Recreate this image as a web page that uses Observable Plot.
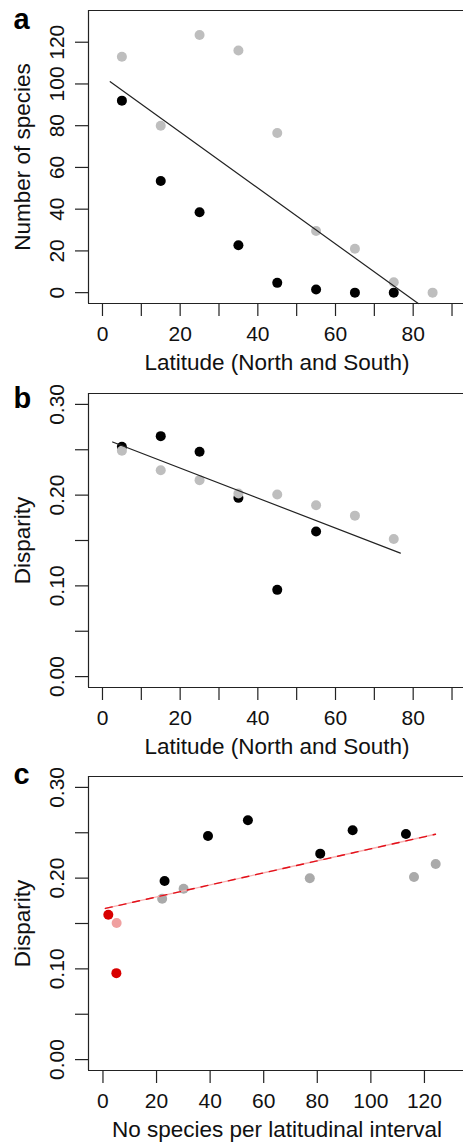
<!DOCTYPE html>
<html>
<head>
<meta charset="utf-8">
<script src="https://cdn.jsdelivr.net/npm/d3@7"></script>
<script src="https://cdn.jsdelivr.net/npm/@observablehq/plot@0.6"></script>
<style>
  html, body { margin: 0; padding: 0; background: #fff; }
  body { width: 463px; overflow: hidden; }
  #chart svg { display: block; }
</style>
</head>
<body>
<div id="chart"></div>
<script>
// ---------- Panel a: number of species vs latitude ----------
const latitudes = [5, 15, 25, 35, 45, 55, 65, 75, 85];
const speciesGray = [113, 80, 123.5, 116, 76.5, 29.5, 21, 5, 0];
const speciesBlack = [92, 53.5, 38.5, 22.7, 4.7, 1.5, 0, 0];
const fitLatA = [2, 81.3];
const fitSpeciesA = [101.1, -5.2];

// ---------- Panel b: disparity vs latitude ----------
const disparityBlackB = [0.2533, 0.265, 0.2478, 0.197, 0.0956, 0.160];
const disparityGrayB = [0.249, 0.2275, 0.2165, 0.2017, 0.2006, 0.1888, 0.1774, 0.1516];
const fitLatB = [2.6, 76.7];
const fitDisparityB = [0.2585, 0.1361];

// ---------- Panel c: disparity vs number of species ----------
const countBlackC = [23.0, 39.2, 54.1, 81.1, 93.2, 113.1];
const disparityBlackC = [0.1968, 0.2465, 0.2638, 0.2270, 0.2528, 0.2487];
const countGrayC = [22.1, 30.1, 77.2, 116.1, 124.2];
const disparityGrayC = [0.1773, 0.1883, 0.1998, 0.2012, 0.2156];
const countRedC = [2.0, 5.0];
const disparityRedC = [0.1596, 0.0953];
const countPinkC = [5.1];
const disparityPinkC = [0.1505];
const fitCountC = [0.9, 124.1];
const fitDisparityC = [0.1666, 0.2483];

// ---------- Ticks & labels ----------
const latTicks = [0, 10, 20, 30, 40, 50, 60, 70, 80, 90];
const latLabels = [0, 20, 40, 60, 80];
const speciesTicks = [0, 20, 40, 60, 80, 100, 120];
const disparityTicks = [0, 0.05, 0.10, 0.15, 0.20, 0.25, 0.30];
const disparityLabels = [0, 0.10, 0.20, 0.30];
const countTicks = [0, 20, 40, 60, 80, 100, 120];

const FONT = "'Liberation Sans', Arial, Helvetica, sans-serif";
const INK = "#111";
const LINE = "#222";
const TICK_FS = 21;
const TITLE_FS = 22.5;

const pts = (xs, ys) => ys.map((y, i) => ({x: xs[i], y}));

function panel({height, marginTop, marginBottom, xDomain, xRange, yDomain,
                xTicks, xLabels, xFormat, yTicks, yLabels, yFormat,
                xTitle, yTitle, letter, letterDy, layers}) {
  const marginLeft = 88;
  return Plot.plot({
    width: 463,
    height,
    marginLeft,
    marginRight: 0,
    marginTop,
    marginBottom,
    style: {fontFamily: FONT, color: INK, background: "#fff", overflow: "visible"},
    x: {domain: xDomain, range: xRange, label: null, axis: null},
    y: {domain: yDomain, label: null, axis: null},
    marks: [
      // box (top, bottom, left)
      Plot.ruleY([yDomain[0], yDomain[1]], {stroke: LINE, strokeWidth: 1.2}),
      Plot.ruleX([xDomain[0]], {stroke: LINE, strokeWidth: 1.2}),
      // tick marks
      Plot.axisX({ticks: xTicks, tickSize: 13, tickFormat: () => "", label: null, stroke: LINE, strokeWidth: 1.2}),
      Plot.axisY({ticks: yTicks, tickSize: 13, tickFormat: () => "", label: null, stroke: LINE, strokeWidth: 1.2}),
      // tick labels
      Plot.text(xLabels, {x: d => d, text: xFormat, frameAnchor: "bottom", dy: 31,
                          textAnchor: "middle", lineAnchor: "middle", fontSize: TICK_FS, fill: INK}),
      Plot.text(yLabels, {y: d => d, text: yFormat, frameAnchor: "left", dx: -31,
                          rotate: -90, textAnchor: "middle", lineAnchor: "middle",
                          fontSize: TICK_FS, fill: INK}),
      // axis titles
      Plot.text([xTitle], {text: d => d, frameAnchor: "bottom", dx: 1, dy: 59,
                           textAnchor: "middle", lineAnchor: "middle", fontSize: TITLE_FS, fill: INK}),
      Plot.text([yTitle], {text: d => d, frameAnchor: "left", dx: -65.5, rotate: -90,
                           textAnchor: "middle", lineAnchor: "middle", fontSize: TITLE_FS, fill: INK}),
      // panel letter
      Plot.text([letter], {text: d => d, frameAnchor: "top-left", dx: -75, dy: letterDy,
                           textAnchor: "start", lineAnchor: "bottom", fontSize: 29,
                           fontWeight: "bold", fill: "#000"}),
      ...layers
    ]
  });
}

const GRAY = "#bebebe";
const GRAY_C = "#aaaaaa";
const R = 5;

const chartA = panel({
  height: 380, marginTop: 10, marginBottom: 77,
  xDomain: [-3.6, 93.6], xRange: [88, 465.5], yDomain: [-5.2, 135.2],
  xTicks: latTicks, xLabels: latLabels, xFormat: d => String(d),
  yTicks: speciesTicks, yLabels: speciesTicks, yFormat: d => String(d),
  xTitle: "Latitude (North and South)", yTitle: "Number of species",
  letter: "a", letterDy: 18,
  layers: [
    Plot.dot(pts(latitudes, speciesGray), {x: "x", y: "y", r: R, fill: GRAY}),
    Plot.dot(pts(latitudes, speciesBlack), {x: "x", y: "y", r: R, fill: "#000"}),
    Plot.line(pts(fitLatA, fitSpeciesA), {x: "x", y: "y", stroke: LINE, strokeWidth: 1.2})
  ]
});

const chartB = panel({
  height: 380, marginTop: 13, marginBottom: 73,
  xDomain: [-3.6, 93.6], xRange: [88, 465.5], yDomain: [-0.012, 0.312],
  xTicks: latTicks, xLabels: latLabels, xFormat: d => String(d),
  yTicks: disparityTicks, yLabels: disparityLabels, yFormat: d3.format(".2f"),
  xTitle: "Latitude (North and South)", yTitle: "Disparity",
  letter: "b", letterDy: 14,
  layers: [
    Plot.dot(pts(latitudes, disparityBlackB), {x: "x", y: "y", r: R, fill: "#000"}),
    Plot.dot(pts(latitudes, disparityGrayB), {x: "x", y: "y", r: R, fill: GRAY}),
    Plot.line(pts(fitLatB, fitDisparityB), {x: "x", y: "y", stroke: LINE, strokeWidth: 1.2})
  ]
});

const chartC = panel({
  height: 386, marginTop: 16, marginBottom: 76,
  xDomain: [-5.4, 135.4], xRange: [88, 465.2], yDomain: [-0.012, 0.312],
  xTicks: countTicks, xLabels: countTicks, xFormat: d => String(d),
  yTicks: disparityTicks, yLabels: disparityLabels, yFormat: d3.format(".2f"),
  xTitle: "No species per latitudinal interval", yTitle: "Disparity",
  letter: "c", letterDy: 7,
  layers: [
    Plot.dot(pts(countGrayC, disparityGrayC), {x: "x", y: "y", r: R, fill: GRAY_C}),
    Plot.dot(pts(countBlackC, disparityBlackC), {x: "x", y: "y", r: R, fill: "#000"}),
    Plot.dot(pts(countRedC, disparityRedC), {x: "x", y: "y", r: R, fill: "#d80000"}),
    Plot.dot(pts(countPinkC, disparityPinkC), {x: "x", y: "y", r: R, fill: "#f0a0a0"}),
    Plot.line(pts(fitCountC, fitDisparityC), {x: "x", y: "y", stroke: "#f6b0b0", strokeWidth: 1.4}),
    Plot.line(pts(fitCountC, fitDisparityC), {x: "x", y: "y", stroke: "#e3101a", strokeWidth: 1.4, strokeDasharray: "7,7"})
  ]
});

const root = document.getElementById("chart");
root.append(chartA, chartB, chartC);
</script>
</body>
</html>
